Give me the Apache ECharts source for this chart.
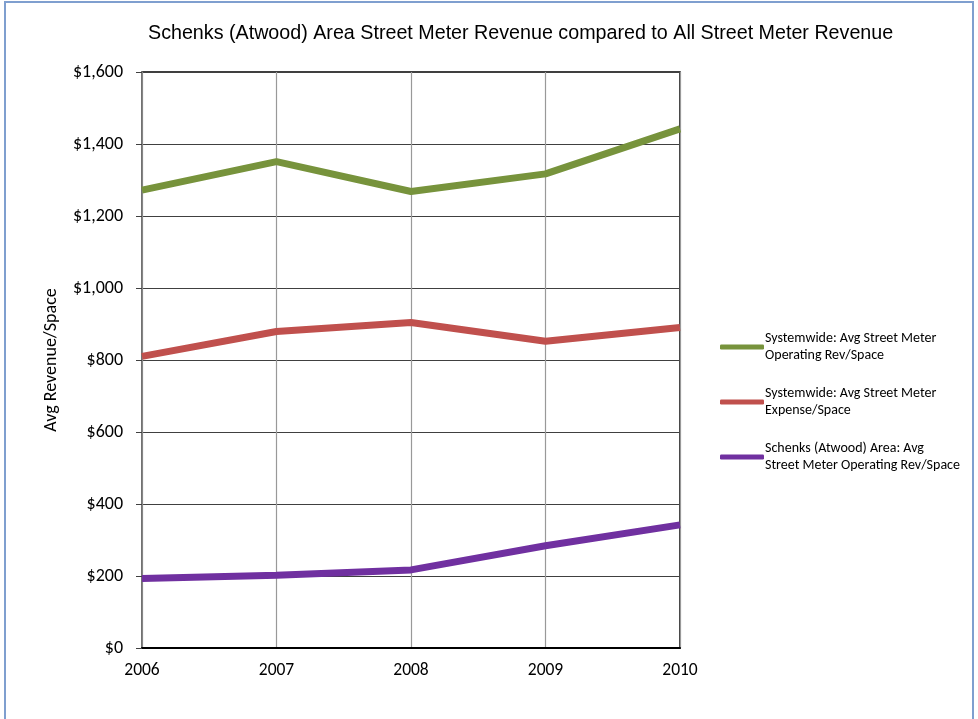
<!DOCTYPE html>
<html><head><meta charset="utf-8">
<script src="https://cdn.jsdelivr.net/npm/echarts@6/dist/echarts.min.js"></script>
<style>html,body{margin:0;padding:0;background:#fff}#c{width:978px;height:719px}</style>
</head><body><div id="c"></div>
<script>
const years = ['2006','2007','2008','2009','2010'];
const sysRev = [1272, 1351, 1268, 1317, 1442];
const sysExp = [810, 879, 904, 852, 890];
const schenksRev = [193, 202, 217, 284, 342];
const seriesNames = [
  'Systemwide: Avg Street Meter Operating Rev/Space',
  'Systemwide: Avg Street Meter Expense/Space',
  'Schenks (Atwood) Area: Avg Street Meter Operating Rev/Space'
];
const legendLabels = [
  'Systemwide: Avg Street Meter\nOperating Rev/Space',
  'Systemwide: Avg Street Meter\nExpense/Space',
  'Schenks (Atwood) Area: Avg\nStreet Meter Operating Rev/Space'
];
const colors = ['#77933C', '#C0504D', '#7030A0'];
const yTicks = { min: 0, max: 1600, interval: 200 };

const font = 'Carlito, Lato, "Open Sans", sans-serif';
const chart = echarts.init(document.getElementById('c'), null, {renderer:'canvas'});
const data = [sysRev, sysExp, schenksRev];
chart.setOption({
  animation: false,
  title: {
    text: 'Schenks (Atwood) Area Street Meter Revenue compared to All Street Meter Revenue',
    left: 143, top: 19,
    textStyle: { fontFamily: '"Liberation Sans", Arial, sans-serif', fontWeight: 'normal', fontSize: 19.7, color: '#000' }
  },
  graphic: [{
    type: 'rect', shape: { x: 5, y: 2, width: 968, height: 730 },
    style: { fill: 'none', stroke: '#7F9FCF', lineWidth: 2 }, silent: true, z: -1
  }],
  grid: { left: 142, right: 298, top: 72, bottom: 71, show: true, borderColor: '#000', borderWidth: 1.5, backgroundColor: 'transparent' },
  legend: {
    orient: 'vertical', left: 715, top: 325, itemGap: 21, itemWidth: 44, itemHeight: 5,
    icon: 'roundRect',
    data: seriesNames,
    formatter: n => legendLabels[seriesNames.indexOf(n)],
    textStyle: { fontFamily: font, fontSize: 14, color: '#000', lineHeight: 17, padding: [0,0,0,-4] }
  },
  xAxis: {
    type: 'category', data: years, boundaryGap: false,
    axisLine: { lineStyle: { color: '#000', width: 2 } },
    axisTick: { show: false },
    axisLabel: { fontFamily: font, fontSize: 17.5, color: '#000', margin: 14 },
    splitLine: { show: true, lineStyle: { color: '#999', width: 1.2 } }
  },
  yAxis: {
    type: 'value', min: yTicks.min, max: yTicks.max, interval: yTicks.interval,
    name: 'Avg Revenue/Space', nameLocation: 'middle', nameGap: 82, nameRotate: 90,
    nameTextStyle: { fontFamily: font, fontSize: 18, color: '#000' },
    axisLine: { show: true, lineStyle: { color: '#808080', width: 1.5 } },
    axisTick: { show: true, length: 6, lineStyle: { color: '#404040' } },
    axisLabel: { fontFamily: font, fontSize: 18, color: '#000', margin: 19,
      formatter: v => '$' + v.toLocaleString('en-US') },
    splitLine: { lineStyle: { color: '#404040', width: 1.2 } }
  },
  series: seriesNames.map((n, i) => ({
    name: n, type: 'line', data: data[i], showSymbol: false, symbol: 'none',
    lineStyle: { color: colors[i], width: 7 }, itemStyle: { color: colors[i] }
  }))
});
</script></body></html>
